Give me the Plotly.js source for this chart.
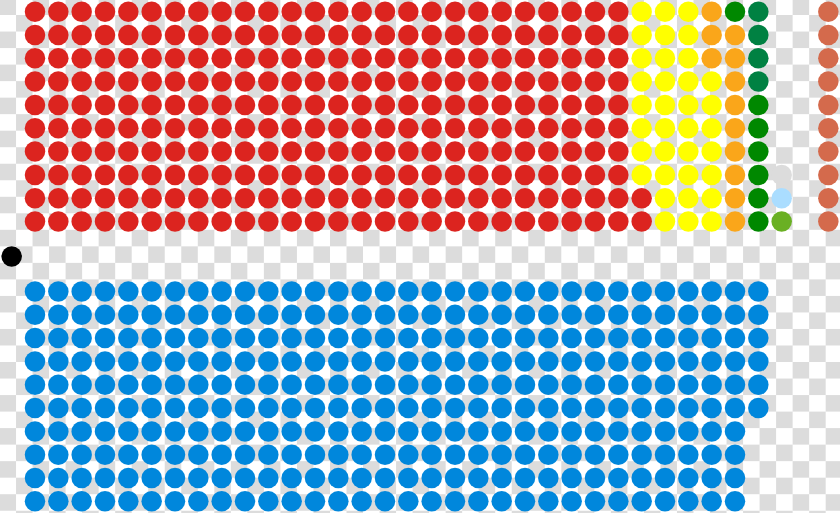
<!DOCTYPE html>
<html>
<head>
<meta charset="utf-8">
<script src="https://cdn.plot.ly/plotly-3.0.1.min.js"></script>
<style>
  body { margin: 0; background: #fff; }
  /* transparency checkerboard behind the seats */
  #chart {
    width: 840px; height: 513px;
    background-color: #fff;
    background-image: repeating-conic-gradient(#dcdcdc 0 25%, #fff 0 50%);
    background-size: 33.06px 33.06px;
    background-position: -17.03px -1.5px;
  }
</style>
</head>
<body>
<div id="chart"></div>
<script>
// opposition benches, filled column by column from the aisle
var oppParties = ['Labour', 'SNP', 'Liberal Democrats', 'Sinn Féin', 'Plaid Cymru', 'Green', 'Independent Unionist', 'Independent'];
var oppSeats   = [262, 35, 12, 7, 4, 1, 1, 1];
var oppColors  = ['#dc241f', '#ffff00', '#faa61a', '#008800', '#008142', '#6ab023', '#aaddff', '#dcdcdc'];

// government benches
var govParties = ['Conservative'];
var govSeats   = [316];
var govColors  = ['#0087dc'];

// cross benches (right hand column)
var crossParties = ['DUP'];
var crossSeats   = [10];
var crossColors  = ['#d46a4c'];

// the chair
var chairParties = ['Speaker'];
var chairSeats   = [1];
var chairColors  = ['#000000'];

var ROWS = 10;
var DOT = 20.5;
var traces = [];

// rowOrder: list of row positions in the order seats are taken inside a column
function fillBlock(parties, seats, colors, firstCol, rowOrder) {
    var k = 0;
    for (var p = 0; p < parties.length; p++) {
        var xs = [], ys = [];
        for (var s = 0; s < seats[p]; s++) {
            xs.push(firstCol + Math.floor(k / rowOrder.length));
            ys.push(rowOrder[k % rowOrder.length]);
            k++;
        }
        traces.push({
            type: 'scatter', mode: 'markers', name: parties[p] + ' (' + seats[p] + ')',
            x: xs, y: ys,
            marker: {size: DOT, color: colors[p], line: {width: 0}},
            hoverinfo: 'name'
        });
    }
}

var oppRows = [], govRows = [], crossRows = [];
for (var r = 0; r < ROWS; r++) {
    oppRows.push(ROWS - 1 - r);     // bottom row first (next to the aisle)
    govRows.push(ROWS + 2 + r);     // top row first (next to the aisle)
    crossRows.push(r);
}

fillBlock(oppParties, oppSeats, oppColors, 1, oppRows);
fillBlock(govParties, govSeats, govColors, 1, govRows);
fillBlock(crossParties, crossSeats, crossColors, 35, crossRows);
fillBlock(chairParties, chairSeats, chairColors, 0, [ROWS + 0.5]);

var layout = {
    width: 840, height: 513,
    margin: {l: 0, r: 0, t: 0, b: 0},
    paper_bgcolor: 'rgba(0,0,0,0)',
    plot_bgcolor: 'rgba(0,0,0,0)',
    showlegend: false,
    xaxis: {range: [-0.5, 35.5], visible: false, fixedrange: true},
    yaxis: {range: [21.5, -0.5], visible: false, fixedrange: true}
};

Plotly.newPlot('chart', traces, layout, {displayModeBar: false, staticPlot: true});
</script>
</body>
</html>
